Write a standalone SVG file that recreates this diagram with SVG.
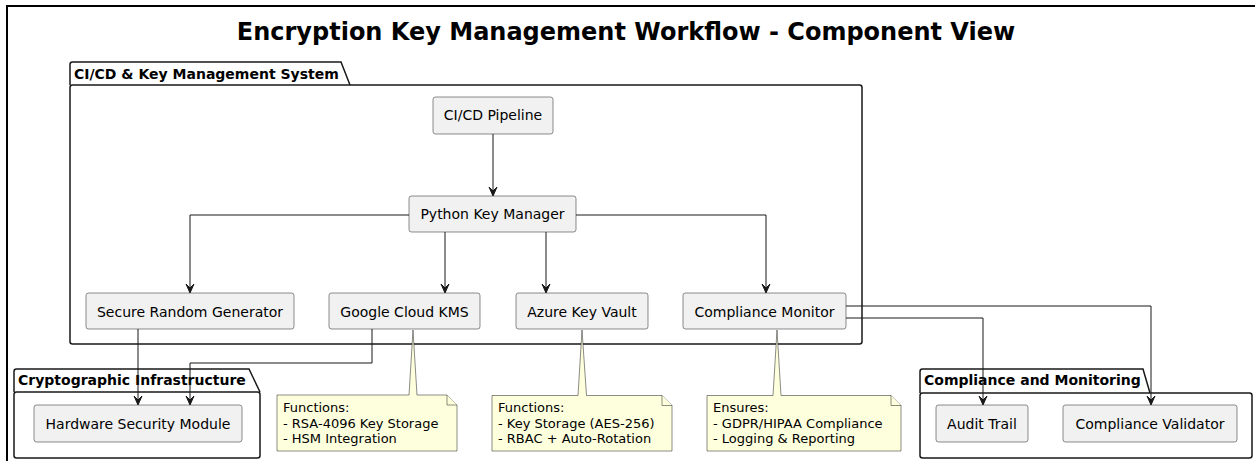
<svg xmlns="http://www.w3.org/2000/svg" width="1255" height="461" viewBox="0 0 1255 461">
<defs>
<style>
text{font-family:"DejaVu Sans","Noto Sans",sans-serif;fill:#000}
.title{font-size:24px;font-weight:bold}
.pkg{fill:none;stroke:#181818;stroke-width:1.5}
.plabel{font-size:14px;font-weight:bold}
.node rect{fill:#F1F1F1;stroke:#181818;stroke-width:0.5}
.node text{font-size:14px;text-anchor:middle}
.note path{fill:#FEFFDD;stroke:#181818;stroke-width:0.5}
.note text{font-size:13px}
.conn path{fill:none;stroke:#181818;stroke-width:1}
.conn polygon{fill:#181818;stroke:#181818;stroke-width:1}
</style>
</defs>
<rect width="1255" height="461" fill="#FFFFFF"/>
<path d="M7,461 V6 H1255" fill="none" stroke="#000" stroke-width="2"/>
<text class="title" x="626" y="40" text-anchor="middle">Encryption Key Management Workflow - Component View</text>

<g id="pkg-cicd">
<path class="pkg" d="M70,85 V64.5 Q70,62 72.5,62 H341 L350,85"/>
<rect class="pkg" x="70" y="85" width="792" height="259" rx="2.5"/>
<text class="plabel" x="74" y="79">CI/CD &amp; Key Management System</text>
</g>
<g id="pkg-crypto">
<path class="pkg" d="M14,392 V371.5 Q14,369 16.5,369 H249 L260,392"/>
<rect class="pkg" x="14" y="392" width="246" height="66" rx="2.5"/>
<text class="plabel" x="18" y="385">Cryptographic Infrastructure</text>
</g>
<g id="pkg-compliance">
<path class="pkg" d="M920,393 V371.5 Q920,369 922.5,369 H1143 L1150,393"/>
<rect class="pkg" x="920" y="393" width="332" height="65" rx="2.5"/>
<text class="plabel" x="924" y="385">Compliance and Monitoring</text>
</g>

<g id="cicd" class="node"><rect x="433" y="97" width="120" height="37" rx="2.5"/><text x="493" y="120">CI/CD Pipeline</text></g>
<g id="pkm" class="node"><rect x="409" y="196" width="167" height="36" rx="2.5"/><text x="492.5" y="219">Python Key Manager</text></g>
<g id="srg" class="node"><rect x="86" y="293" width="208" height="36" rx="2.5"/><text x="190" y="316.5">Secure Random Generator</text></g>
<g id="gckms" class="node"><rect x="329" y="293" width="151" height="36" rx="2.5"/><text x="404.5" y="316.5">Google Cloud KMS</text></g>
<g id="akv" class="node"><rect x="516" y="293" width="132" height="36" rx="2.5"/><text x="582" y="316.5">Azure Key Vault</text></g>
<g id="cm" class="node"><rect x="683" y="293" width="163" height="36" rx="2.5"/><text x="764.5" y="316.5">Compliance Monitor</text></g>
<g id="hsm" class="node"><rect x="34" y="405" width="208" height="37" rx="2.5"/><text x="138" y="428.5">Hardware Security Module</text></g>
<g id="audit" class="node"><rect x="936" y="405" width="92" height="37" rx="2.5"/><text x="982" y="428.5">Audit Trail</text></g>
<g id="validator" class="node"><rect x="1063" y="405" width="174" height="37" rx="2.5"/><text x="1150" y="428.5">Compliance Validator</text></g>

<g id="note-gckms" class="note">
<path d="M277,395 H409 L413,330 L417,395 H447 L457,405 V451 H277 Z"/>
<path d="M447,395 V405 H457"/>
<text x="283" y="411.5">Functions:</text>
<text x="283" y="427.5">- RSA-4096 Key Storage</text>
<text x="283" y="443">- HSM Integration</text>
</g>
<g id="note-akv" class="note">
<path d="M492,395.5 H578 L582,330 L586.5,395.5 H662 L672,405.5 V451 H492 Z"/>
<path d="M662,395.5 V405.5 H672"/>
<text x="498" y="411.5">Functions:</text>
<text x="498" y="427.5">- Key Storage (AES-256)</text>
<text x="498" y="443">- RBAC + Auto-Rotation</text>
</g>
<g id="note-cm" class="note">
<path d="M707,395.5 H773 L777,330 L781,395.5 H891 L901,405.5 V451 H707 Z"/>
<path d="M891,395.5 V405.5 H901"/>
<text x="713" y="411.5">Ensures:</text>
<text x="713" y="427.5">- GDPR/HIPAA Compliance</text>
<text x="713" y="443">- Logging &amp; Reporting</text>
</g>

<g id="connectors" class="conn">
<path d="M493,134 V195"/><polygon points="489,187 493,196 497,187 493,191"/>
<path d="M409,215 H190 V292"/><polygon points="186,284 190,293 194,284 190,288"/>
<path d="M445,232 V292"/><polygon points="441,284 445,293 449,284 445,288"/>
<path d="M546,232 V292"/><polygon points="542,284 546,293 550,284 546,288"/>
<path d="M576,215 H766 V292"/><polygon points="762,284 766,293 770,284 766,288"/>
<path d="M846,306 H1151 V404"/><polygon points="1147,396 1151,405 1155,396 1151,400"/>
<path d="M846,318 H983 V404"/><polygon points="979,396 983,405 987,396 983,400"/>
<path d="M138,329 V404"/><polygon points="134,396 138,405 142,396 138,400"/>
<path d="M372,329 V363 H190 V404"/><polygon points="186,396 190,405 194,396 190,400"/>
</g>
</svg>
